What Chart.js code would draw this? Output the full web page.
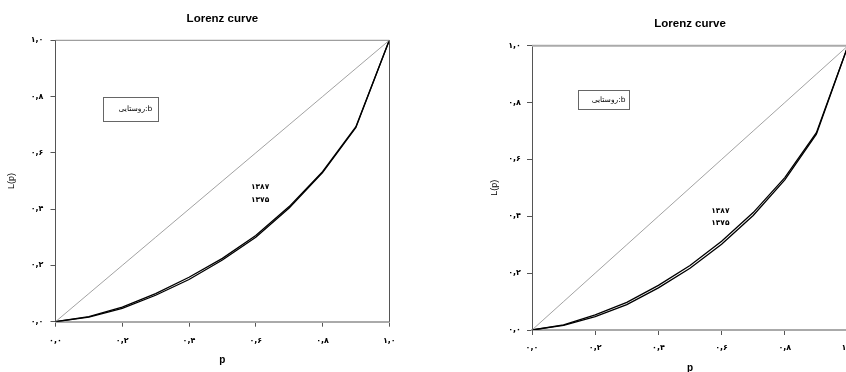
<!DOCTYPE html>
<html>
<head>
<meta charset="utf-8">
<script src="https://cdn.jsdelivr.net/npm/chart.js@4.4.1/dist/chart.umd.min.js"></script>
<style>
html,body{margin:0;padding:0;background:#fff;overflow:hidden;width:846px;height:372px;}
canvas{position:absolute;top:0;}
#c1{left:0;}
#c2{left:430px;}
</style>
</head>
<body>
<canvas id="c1" width="420" height="372"></canvas>
<canvas id="c2" width="440" height="372"></canvas>
<script>
// ---- data ----
const pValues = [0, 0.1, 0.2, 0.3, 0.4, 0.5, 0.6, 0.7, 0.8, 0.9, 1.0];
const equality = [0, 0.1, 0.2, 0.3, 0.4, 0.5, 0.6, 0.7, 0.8, 0.9, 1.0];
const left1387 = [0, 0.018, 0.052, 0.100, 0.158, 0.225, 0.306, 0.409, 0.533, 0.693, 1.0];
const left1375 = [0, 0.016, 0.047, 0.094, 0.150, 0.219, 0.300, 0.404, 0.530, 0.690, 1.0];
const right1387 = [0, 0.018, 0.053, 0.097, 0.157, 0.227, 0.312, 0.413, 0.536, 0.694, 1.0];
const right1375 = [0, 0.016, 0.047, 0.089, 0.148, 0.217, 0.302, 0.403, 0.528, 0.689, 1.0];
const tickLabels = ['۰,۰', '۰,۲', '۰,۴', '۰,۶', '۰,۸', '۱,۰'];
const seriesNames = ['۱۳۸۷', '۱۳۷۵'];
const titleText = 'Lorenz curve';
const xTitle = 'p';
const yTitle = 'L(p)';
const legendText = 'b:روستایی';
// annotation anchors in data units
const leftNamePos = [[0.613, 0.479], [0.613, 0.432]];
const rightNamePos = [[0.596, 0.419], [0.596, 0.376]];
const leftBox = [0.142, 0.307, 0.799, 0.713];
const rightBox = [0.146, 0.307, 0.844, 0.777];

const FONT = '"Liberation Sans", "DejaVu Sans", Arial, sans-serif';

function tickCb(v) {
  const i = Math.round(v / 0.2);
  return (Math.abs(v - i * 0.2) < 1e-6) ? tickLabels[i] : '';
}

function toXY(arr) { return pValues.map((x, i) => ({x: x, y: arr[i]})); }

function makeChart(id, o) {
  const decor = {
    id: 'decor',
    afterDraw(chart) {
      const ctx = chart.ctx, a = chart.chartArea;
      const xs = chart.scales.x, ys = chart.scales.y;
      ctx.save();
      // top border
      ctx.strokeStyle = o.topColor; ctx.lineWidth = o.topWidth;
      ctx.beginPath(); ctx.moveTo(a.left, a.top); ctx.lineTo(a.right, a.top); ctx.stroke();
      // right border
      ctx.strokeStyle = '#555'; ctx.lineWidth = 1;
      ctx.beginPath(); ctx.moveTo(Math.round(a.right) + 0.5, a.top); ctx.lineTo(Math.round(a.right) + 0.5, a.bottom); ctx.stroke();
      // title
      ctx.fillStyle = '#000';
      ctx.textAlign = 'center'; ctx.textBaseline = 'middle';
      ctx.font = 'bold 11.5px ' + FONT;
      ctx.fillText(titleText, (a.left + a.right) / 2, a.top - o.titleOff);
      // x title
      ctx.font = 'bold 10px ' + FONT;
      ctx.fillText(xTitle, (a.left + a.right) / 2, a.bottom + o.xTitleOff);
      // y title
      ctx.save();
      ctx.translate(a.left - o.yTitleOff, (a.top + a.bottom) / 2);
      ctx.rotate(-Math.PI / 2);
      ctx.font = '9px ' + FONT;
      ctx.fillText(yTitle, 0, 0);
      ctx.restore();
      // legend box
      const b = o.box;
      const bx1 = xs.getPixelForValue(b[0]), bx2 = xs.getPixelForValue(b[1]);
      const by1 = ys.getPixelForValue(b[2]), by2 = ys.getPixelForValue(b[3]);
      ctx.strokeStyle = '#666'; ctx.lineWidth = 1;
      ctx.strokeRect(Math.round(bx1) + 0.5, Math.round(by1) + 0.5, Math.round(bx2 - bx1), Math.round(by2 - by1));
      ctx.font = '7.5px "DejaVu Sans", sans-serif';
      ctx.fillStyle = '#000';
      ctx.direction = 'rtl';
      ctx.textAlign = 'center';
      ctx.fillText(legendText, (bx1 + bx2) / 2 + 5, (by1 + by2) / 2);
      ctx.direction = 'ltr';
      // series names
      ctx.font = 'bold 7.5px "DejaVu Sans", sans-serif';
      o.names.forEach((pos, i) => {
        ctx.fillText(seriesNames[i], xs.getPixelForValue(pos[0]), ys.getPixelForValue(pos[1]));
      });
      ctx.restore();
    }
  };
  new Chart(document.getElementById(id), {
    type: 'line',
    data: {
      datasets: [
        {data: toXY(equality), borderColor: '#8a8a8a', borderWidth: 0.8, pointRadius: 0, tension: 0},
        {data: toXY(o.a), borderColor: '#000', borderWidth: 1.3, pointRadius: 0, tension: 0},
        {data: toXY(o.b), borderColor: '#000', borderWidth: 1.3, pointRadius: 0, tension: 0}
      ]
    },
    options: {
      responsive: false,
      animation: false,
      events: [],
      layout: {padding: {left: 0, right: o.padRight, top: o.top, bottom: 0}},
      plugins: {legend: {display: false}, tooltip: {enabled: false}, title: {display: false}},
      scales: {
        x: {
          type: 'linear', min: 0, max: 1,
          ticks: {stepSize: 0.2, callback: tickCb, autoSkip: false, maxRotation: 0, padding: o.xTickPad,
                  color: '#000', font: {family: '"DejaVu Sans", sans-serif', size: 8, weight: 'bold'}},
          grid: {drawOnChartArea: false, drawTicks: true, tickLength: 5, color: '#555', lineWidth: 1},
          border: {color: '#aaa', width: 2},
          afterFit(s) { s.height = o.xH; s.paddingLeft = 0; s.paddingRight = 0; }
        },
        y: {
          type: 'linear', min: 0, max: 1,
          ticks: {stepSize: 0.2, callback: tickCb, autoSkip: false, padding: o.yTickPad,
                  color: '#000', font: {family: '"DejaVu Sans", sans-serif', size: 8, weight: 'bold'}},
          grid: {drawOnChartArea: false, drawTicks: true, tickLength: 5, color: '#555', lineWidth: 1},
          border: {color: '#555', width: 1},
          afterFit(s) { s.width = o.yW; s.paddingTop = 0; s.paddingBottom = 0; }
        }
      }
    },
    plugins: [decor]
  });
}

makeChart('c1', {
  a: left1387, b: left1375, names: leftNamePos, box: leftBox,
  padRight: 30.7, top: 40.3, xH: 50.3, yW: 55.5,
  xTickPad: 9, yTickPad: 7,
  titleOff: 21, xTitleOff: 39, yTitleOff: 43.5,
  topColor: '#888', topWidth: 1
});
makeChart('c2', {
  a: right1387, b: right1375, names: rightNamePos, box: rightBox,
  padRight: 22, top: 45.7, xH: 42, yW: 102,
  xTickPad: 8, yTickPad: 6,
  titleOff: 22, xTitleOff: 38, yTitleOff: 37,
  topColor: '#aaa', topWidth: 2
});
</script>
</body>
</html>
